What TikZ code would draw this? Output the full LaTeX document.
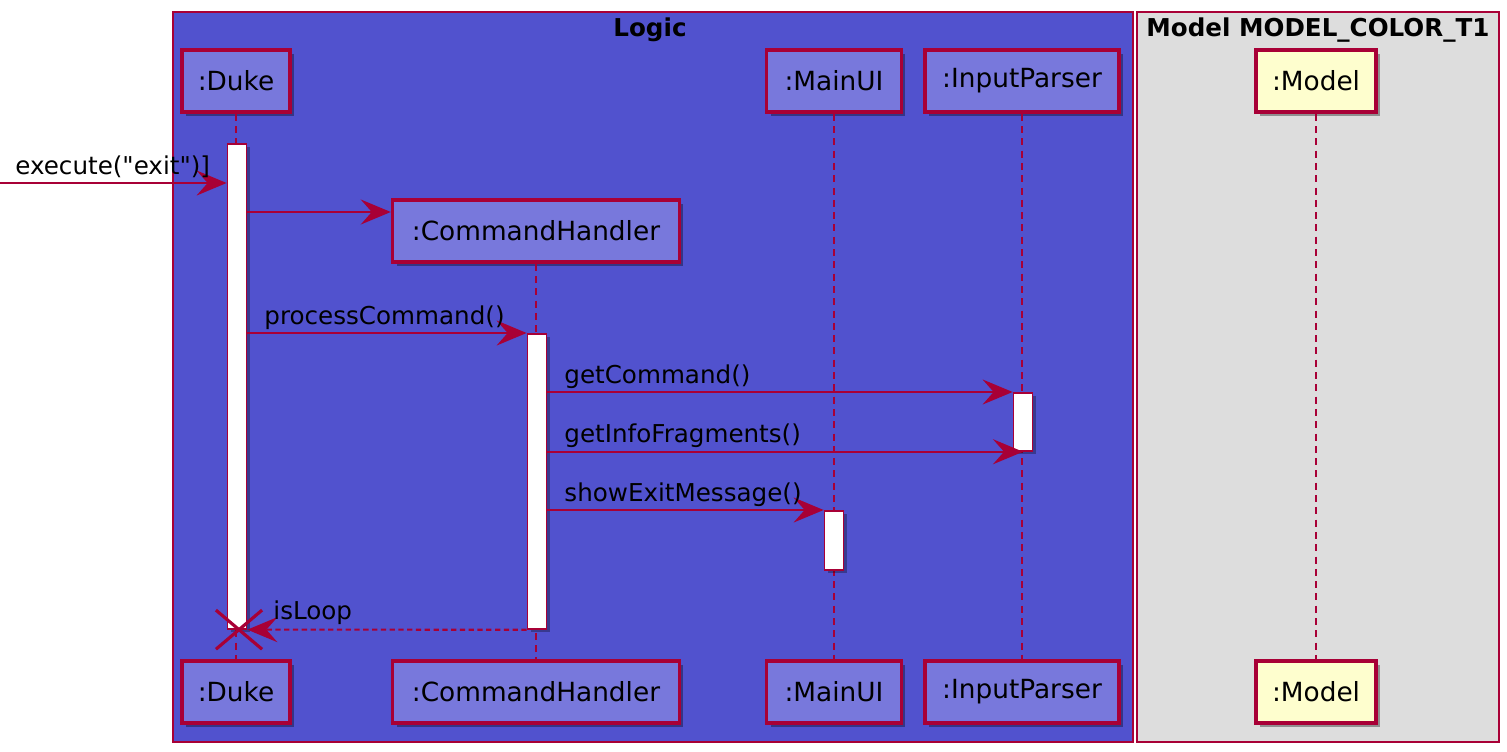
\documentclass[tikz,border=0pt]{standalone}
\usepackage{fontspec}
\setmainfont{DejaVu Sans}[Ligatures=TeXOff]
\usetikzlibrary{shadows,arrows.meta,shapes.misc}
\definecolor{umlRed}{RGB}{168,0,54}
\definecolor{logicBg}{RGB}{81,82,206}
\definecolor{partFill}{RGB}{120,120,220}
\definecolor{modelBg}{RGB}{221,221,221}
\definecolor{modelFill}{RGB}{254,254,206}
\tikzset{
  part/.style={draw=umlRed, line width=2pt, fill=partFill, minimum height=1.24cm, inner sep=0pt,
    drop shadow={shadow xshift=.08cm, shadow yshift=-.08cm, fill=black, opacity=.35},
    font=\fontsize{15}{17}\selectfont},
  act/.style={draw=umlRed, line width=1pt, fill=white, minimum width=.38cm, inner sep=0pt, anchor=north,
    drop shadow={shadow xshift=.06cm, shadow yshift=-.06cm, fill=black, opacity=.3}},
  life/.style={umlRed, line width=.9pt, dash pattern=on 4pt off 3pt},
  msg/.style={umlRed, line width=1.2pt, -{Stealth[length=.6cm, width=.5cm, inset=.22cm]}},
  ret/.style={msg, dash pattern=on 3pt off 2pt},
  lbl/.style={text=black, font=\fontsize{14}{16}\selectfont, inner sep=0pt},
  grp/.style={draw=umlRed, line width=.7pt},
  grptitle/.style={font=\fontsize{14}{16}\selectfont\bfseries, inner sep=0pt},
  kill/.style={cross out, draw=umlRed, line width=1.8pt, minimum width=.86cm, minimum height=.72cm, inner sep=0pt}
}
\begin{document}
\begin{tikzpicture}[x=0.02cm, y=-0.02cm]
\useasboundingbox (0,0) rectangle (1507,751);
% boxes
\draw[grp, fill=logicBg] (173,12) rectangle (1133,742);
\draw[grp, fill=modelBg] (1137,12) rectangle (1499,742);
\node[grptitle] at (650,30) {Logic};
\node[grptitle] at (1318,30) {Model MODEL\_COLOR\_T1};

% participants
\node[part, minimum width=2.16cm] (duke) at (236,81) {:Duke};
\node[part, minimum width=5.74cm] (cmd) at (536,231) {:CommandHandler};
\node[part, minimum width=2.7cm] (ui) at (834,81) {:MainUI};
\node[part, minimum width=3.88cm] (parser) at (1022,81) {:InputParser};
\node[part, minimum width=2.4cm, fill=modelFill] (model) at (1316,81) {:Model};

\node[part, minimum width=2.16cm] (dukeB) at (236,692) {:Duke};
\node[part, minimum width=5.74cm] (cmdB) at (536,692) {:CommandHandler};
\node[part, minimum width=2.7cm] (uiB) at (834,692) {:MainUI};
\node[part, minimum width=3.88cm] (parserB) at (1022,692) {:InputParser};
\node[part, minimum width=2.4cm, fill=modelFill] (modelB) at (1316,692) {:Model};

% lifelines
\draw[life] (duke) -- (dukeB);
\draw[life] (cmd) -- (cmdB);
\draw[life] (ui) -- (uiB);
\draw[life] (parser) -- (parserB);
\draw[life] (model) -- (modelB);

% activations
\node[act, minimum height=9.7cm] (dukeAct) at (237,143) {};
\node[act, minimum height=5.9cm] (cmdAct) at (537,333) {};
\node[act, minimum height=1.16cm] (parserAct) at (1023,392) {};
\node[act, minimum height=1.18cm] (uiAct) at (834,510) {};

% messages
\coordinate (entry) at (0,183);
\draw[msg] (entry) -- (dukeAct.west |- entry);
\node[lbl, anchor=base west] at (15,174) {execute("exit")]};
\coordinate (mkCmd) at (0,212);
\draw[msg] (dukeAct.east |- mkCmd) -- (cmd.west |- mkCmd);
\draw[msg] (dukeAct.east |- cmdAct.north) -- (cmdAct.north west)
  node[lbl, pos=0, anchor=base west, xshift=.32cm, yshift=.18cm] {processCommand()};
\draw[msg] (cmdAct.east |- parserAct.north) -- (parserAct.north west)
  node[lbl, pos=0, anchor=base west, xshift=.32cm, yshift=.18cm] {getCommand()};
\draw[msg] (cmdAct.east |- parserAct.south) -- (parserAct.south)
  node[lbl, pos=0, anchor=base west, xshift=.32cm, yshift=.18cm] {getInfoFragments()};
\draw[msg] (cmdAct.east |- uiAct.north) -- (uiAct.north west)
  node[lbl, pos=0, anchor=base west, xshift=.32cm, yshift=.18cm] {showExitMessage()};
\draw[ret] (cmdAct.south west) -- (dukeAct.south east)
  node[lbl, pos=1, anchor=base west, xshift=.5cm, yshift=.2cm] {isLoop};
\node[kill] (end) at ([xshift=.04cm]dukeAct.south) {};
\end{tikzpicture}
\end{document}
